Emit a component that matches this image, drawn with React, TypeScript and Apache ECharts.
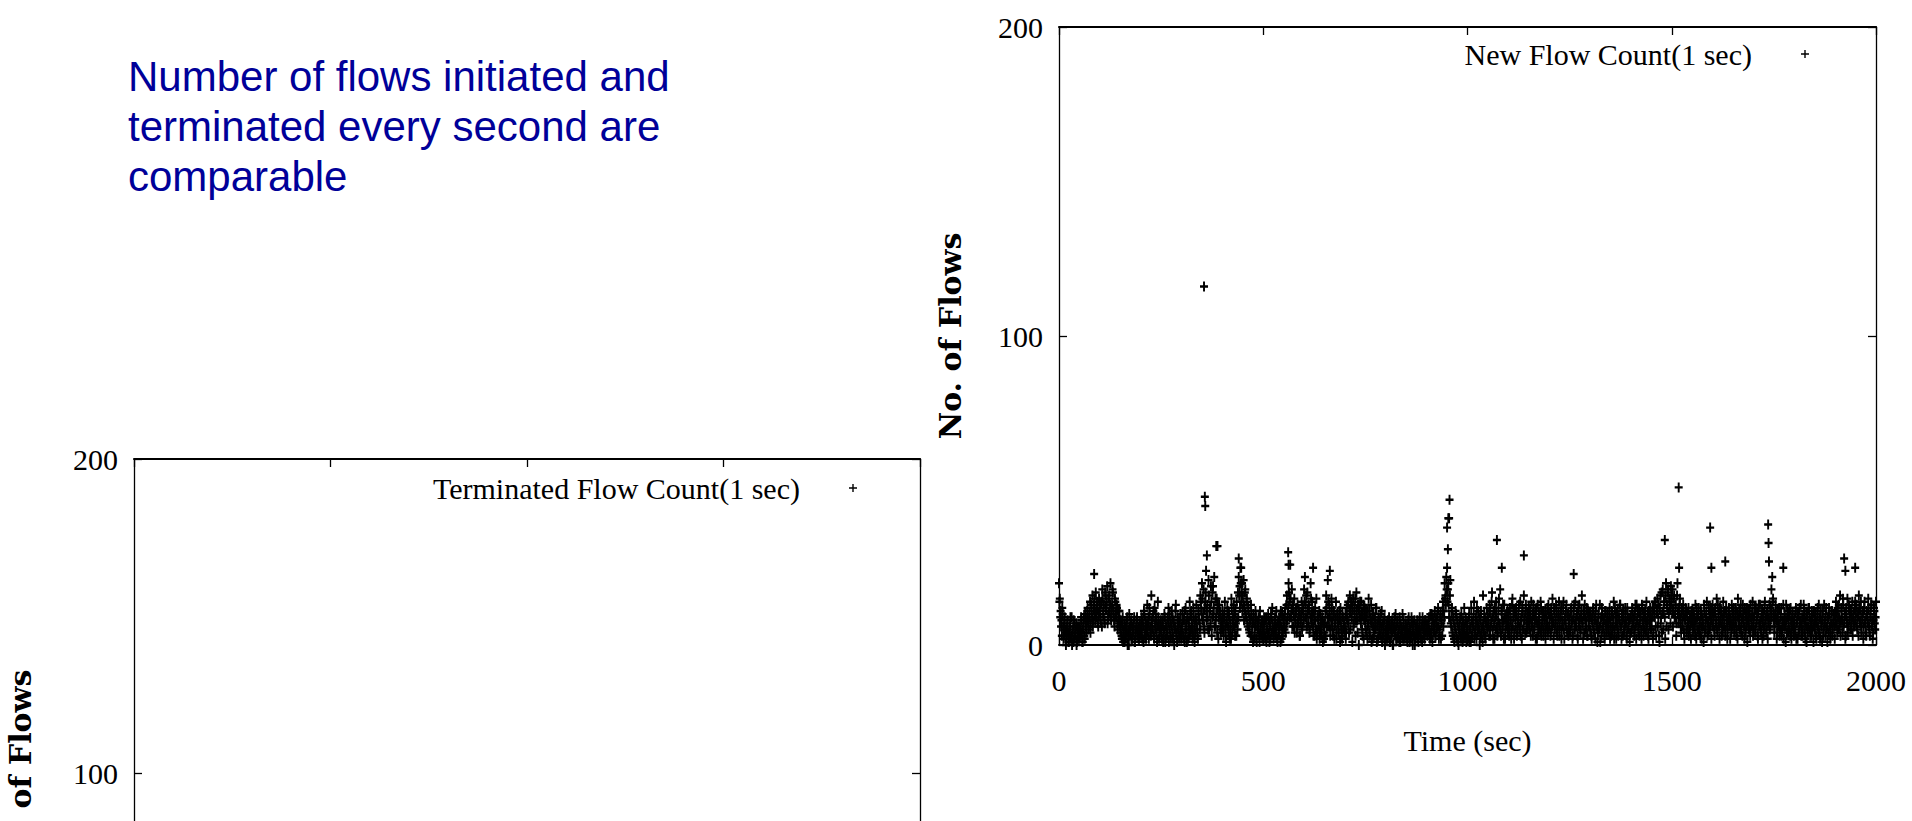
import React, { useEffect, useRef } from 'react';
import * as echarts from 'echarts';

// ---------- Data ----------
const headline = 'Number of flows initiated and\nterminated every second are\ncomparable';
const newSeriesName = 'New Flow Count(1 sec)';
const termSeriesName = 'Terminated Flow Count(1 sec)';
const xAxisTitle = 'Time (sec)';
const yAxisTitle = 'No. of Flows';
const xTicks = [0, 500, 1000, 1500, 2000];
const yTicks = [0, 100, 200];

// New flow counts at even seconds (t = 0, 2, 4, ...)
const newFlowEven0to498 = [
  20, 15, 11, 8, 12, 6, 3, 9, 5, 2, 7, 4, 1, 6, 9, 3, 0, 5, 8, 2, 4, 7, 1, 3, 6,
  2, 5, 9, 4, 1, 7, 3, 10, 6, 8, 12, 5, 9, 14, 7, 11, 16, 8, 13, 10, 17, 9, 12, 6, 15,
  11, 8, 14, 18, 10, 13, 7, 16, 12, 19, 9, 15, 11, 20, 8, 13, 17, 10, 6, 14, 9, 12, 5, 8, 11,
  4, 7, 2, 9, 5, 1, 6, 3, 8, 0, 5, 10, 3, 7, 2, 6, 4, 9, 1, 5, 8, 3, 6, 2, 7,
  4, 9, 2, 6, 11, 3, 8, 5, 13, 7, 2, 10, 4, 16, 6, 9, 3, 12, 5, 8, 1, 14, 6, 3, 7,
  5, 2, 8, 4, 10, 1, 6, 3, 9, 12, 5, 7, 2, 11, 4, 8, 0, 6, 13, 3, 9, 5, 2, 7, 4,
  6, 10, 3, 8, 1, 12, 5, 9, 2, 7, 14, 4, 11, 6, 3, 9, 1, 8, 13, 5, 2, 10, 7, 16, 12,
  20, 8, 18, 4, 14, 24, 11, 9, 21, 5, 12, 19, 3, 17, 10, 22, 6, 8, 15, 12, 2, 13, 10, 4, 7,
  11, 5, 9, 14, 3, 8, 12, 6, 10, 2, 7, 15, 4, 9, 13, 6, 11, 3, 8, 17, 22, 19, 25, 14, 20,
  16, 21, 12, 18, 9, 15, 6, 11, 4, 8, 13, 3, 7, 10, 2, 6, 9, 1, 5, 8, 3, 11, 4, 7, 2,
];
const newFlowEven500to998 = [
  6, 9, 3, 8, 1, 5, 10, 4, 7, 2, 9, 12, 5, 3, 8, 6, 11, 2, 7, 4, 9, 1, 6, 10, 3,
  8, 5, 12, 7, 16, 10, 20, 14, 26, 9, 18, 12, 6, 15, 8, 11, 4, 13, 7, 10, 3, 9, 14, 6, 11,
  18, 22, 13, 9, 17, 7, 12, 5, 20, 10, 14, 6, 11, 3, 8, 15, 4, 9, 6, 2, 10, 5, 8, 1, 7,
  4, 11, 16, 6, 21, 9, 13, 3, 8, 12, 5, 10, 2, 7, 14, 4, 9, 6, 11, 1, 8, 3, 10, 5, 7,
  6, 2, 12, 8, 14, 4, 16, 11, 13, 1, 15, 7, 12, 3, 17, 8, 13, 0, 11, 9, 14, 5, 10, 2, 12,
  8, 4, 11, 6, 15, 3, 9, 13, 7, 2, 10, 5, 8, 12, 1, 6, 9, 4, 7, 3, 11, 2, 5, 8, 0,
  4, 7, 2, 6, 9, 1, 5, 3, 8, 0, 6, 4, 10, 2, 7, 3, 5, 9, 1, 6, 4, 2, 8, 3, 5,
  2, 6, 4, 9, 1, 5, 3, 7, 0, 4, 8, 2, 6, 3, 5, 1, 7, 4, 2, 6, 9, 3, 5, 8, 4,
  6, 3, 5, 9, 2, 4, 10, 1, 8, 5, 11, 3, 9, 6, 12, 2, 5, 10, 7, 3, 14, 11, 20, 16, 22,
  25, 18, 13, 9, 21, 6, 12, 3, 8, 1, 5, 10, 2, 7, 0, 4, 9, 2, 6, 1, 5, 12, 3, 8, 4,
];
const newFlowEven1000to1498 = [
  7, 2, 10, 5, 1, 8, 3, 6, 14, 4, 9, 2, 7, 11, 5, 0, 8, 3, 6, 16, 4, 9, 2, 7, 5,
  10, 6, 13, 3, 8, 17, 5, 11, 2, 9, 14, 6, 4, 12, 7, 18, 3, 10, 5, 8, 13, 2, 9, 6, 11,
  7, 3, 12, 8, 5, 15, 9, 2, 11, 6, 10, 4, 8, 13, 6, 3, 9, 12, 5, 16, 8, 11, 4, 10, 7,
  12, 5, 9, 14, 7, 3, 10, 6, 11, 8, 2, 13, 7, 9, 4, 12, 6, 10, 3, 8, 11, 5, 9, 7, 13,
  6, 10, 4, 9, 15, 7, 12, 5, 8, 11, 3, 9, 14, 6, 10, 2, 8, 12, 5, 9, 7, 13, 4, 10, 6,
  9, 5, 12, 8, 3, 11, 7, 14, 6, 10, 2, 8, 13, 5, 9, 16, 7, 11, 4, 9, 6, 12, 3, 8, 10,
  5, 9, 2, 7, 12, 4, 8, 11, 6, 1, 9, 5, 13, 7, 3, 10, 6, 8, 2, 11, 5, 9, 7, 4, 12,
  8, 3, 10, 6, 14, 5, 9, 2, 7, 11, 4, 8, 13, 6, 10, 3, 9, 5, 12, 7, 2, 10, 6, 8, 4,
  9, 5, 11, 7, 3, 10, 6, 13, 8, 4, 11, 7, 9, 2, 12, 6, 10, 5, 8, 14, 7, 3, 11, 6, 9,
  5, 10, 2, 12, 9, 14, 3, 11, 6, 13, 1, 16, 9, 4, 18, 11, 14, 2, 20, 13, 17, 5, 15, 12, 19,
];
const newFlowEven1500to1998 = [
  14, 18, 11, 16, 9, 13, 7, 20, 12, 10, 15, 6, 11, 8, 13, 4, 9, 12, 5, 10, 7, 3, 9, 6, 11,
  8, 4, 10, 6, 13, 2, 9, 5, 12, 7, 3, 10, 6, 8, 1, 11, 5, 9, 14, 7, 4, 10, 6, 12, 8,
  13, 9, 5, 11, 7, 15, 4, 10, 6, 12, 8, 3, 9, 14, 6, 11, 5, 10, 2, 8, 12, 6, 9, 4, 11,
  7, 12, 5, 9, 3, 10, 15, 6, 8, 11, 4, 9, 13, 7, 2, 10, 6, 12, 8, 5, 11, 3, 9, 7, 14,
  6, 10, 4, 12, 8, 3, 11, 7, 13, 5, 9, 2, 10, 6, 14, 8, 4, 11, 7, 9, 5, 12, 18, 22, 15,
  10, 6, 13, 8, 4, 11, 7, 3, 9, 12, 5, 8, 2, 10, 6, 13, 4, 9, 7, 11, 3, 8, 5, 10, 6,
  9, 4, 12, 7, 2, 10, 5, 8, 13, 6, 3, 9, 11, 4, 7, 1, 10, 6, 12, 5, 8, 3, 9, 6, 11,
  5, 8, 2, 10, 6, 13, 4, 9, 7, 1, 11, 5, 8, 3, 12, 6, 9, 4, 10, 2, 7, 11, 5, 8, 6,
  10, 14, 7, 12, 5, 9, 16, 8, 11, 4, 13, 7, 10, 3, 9, 15, 6, 12, 8, 11, 5, 14, 9, 7, 12,
  8, 13, 5, 10, 16, 7, 12, 4, 9, 11, 6, 14, 8, 3, 10, 7, 12, 5, 9, 13, 6, 2, 8, 11, 5,
];
const newFlowAt2000 = 14;

// New flow counts at odd seconds (t = 1, 3, 5, ...)
const newFlowOdd1to499 = [
  14, 9, 6, 3, 10, 2, 7, 4, 0, 5, 8, 1, 3, 6, 2, 9, 4, 1, 7, 3, 5, 0, 6, 2, 4,
  6, 3, 8, 1, 5, 9, 2, 7, 4, 11, 8, 6, 10, 4, 13, 9, 6, 12, 15, 8, 11, 14, 7, 10, 13,
  9, 13, 6, 15, 11, 8, 17, 12, 14, 7, 10, 16, 13, 9, 12, 18, 11, 8, 15, 10, 13, 7, 11, 9, 6,
  8, 3, 6, 1, 4, 7, 2, 5, 9, 3, 0, 6, 4, 8, 2, 5, 7, 1, 3, 6, 9, 4, 2, 5, 3,
  6, 3, 8, 1, 10, 5, 2, 7, 4, 9, 12, 6, 3, 8, 5, 11, 2, 7, 10, 4, 6, 9, 2, 5, 8,
  3, 7, 1, 5, 9, 2, 6, 4, 8, 1, 10, 3, 6, 9, 2, 7, 5, 11, 4, 1, 6, 8, 3, 10, 2,
  5, 8, 2, 11, 4, 7, 1, 9, 6, 3, 10, 5, 8, 2, 12, 6, 4, 9, 7, 3, 11, 8, 5, 14, 10,
  15, 10, 6, 12, 17, 8, 13, 5, 16, 11, 7, 14, 9, 19, 12, 6, 15, 10, 4, 13, 9, 11, 6, 8, 5,
  8, 3, 10, 6, 1, 7, 11, 4, 9, 5, 2, 12, 8, 6, 10, 3, 7, 14, 5, 9, 16, 12, 20, 17, 11,
  13, 8, 17, 10, 14, 7, 12, 5, 9, 3, 10, 6, 1, 8, 4, 11, 2, 7, 5, 9, 1, 6, 3, 8, 4,
];
const newFlowOdd501to999 = [
  4, 7, 2, 9, 5, 3, 8, 1, 6, 10, 4, 7, 2, 5, 9, 3, 6, 1, 8, 4, 7, 11, 2, 5, 9,
  6, 10, 4, 13, 8, 12, 17, 9, 15, 11, 6, 13, 10, 4, 9, 12, 6, 8, 11, 3, 7, 10, 5, 12, 8,
  14, 9, 16, 6, 11, 13, 4, 9, 15, 7, 10, 3, 8, 12, 5, 2, 9, 6, 11, 4, 7, 3, 9, 6, 2,
  7, 3, 12, 9, 14, 6, 10, 5, 15, 8, 3, 11, 6, 9, 2, 10, 7, 4, 8, 12, 5, 2, 9, 6, 4,
  10, 4, 9, 13, 7, 11, 5, 14, 9, 12, 6, 10, 15, 8, 11, 4, 12, 9, 14, 7, 10, 3, 13, 8, 11,
  5, 9, 2, 7, 11, 4, 8, 1, 10, 6, 3, 9, 5, 12, 7, 2, 8, 4, 10, 6, 1, 7, 3, 9, 5,
  2, 5, 8, 3, 6, 1, 7, 4, 0, 5, 9, 3, 6, 2, 8, 4, 1, 7, 3, 5, 10, 6, 2, 4, 7,
  5, 1, 8, 3, 6, 2, 9, 4, 7, 3, 0, 6, 4, 8, 2, 5, 9, 3, 6, 1, 7, 4, 2, 8, 5,
  7, 4, 8, 5, 10, 3, 6, 9, 4, 7, 3, 8, 5, 10, 6, 4, 9, 2, 8, 11, 6, 9, 15, 13, 18,
  14, 20, 9, 16, 7, 11, 4, 9, 2, 6, 11, 3, 8, 1, 5, 7, 3, 10, 4, 8, 2, 6, 9, 1, 6,
];
const newFlowOdd1001to1499 = [
  4, 9, 1, 6, 12, 3, 7, 10, 2, 5, 8, 12, 4, 6, 9, 3, 11, 5, 1, 7, 10, 3, 8, 12, 6,
  8, 3, 11, 6, 14, 9, 2, 7, 12, 5, 10, 3, 8, 15, 6, 4, 11, 7, 13, 2, 9, 5, 10, 7, 4,
  10, 5, 8, 2, 13, 6, 11, 4, 9, 12, 3, 7, 10, 5, 14, 8, 2, 11, 6, 9, 4, 13, 7, 5, 9,
  8, 11, 3, 6, 10, 13, 5, 9, 2, 12, 7, 4, 10, 6, 14, 3, 8, 11, 5, 9, 2, 7, 12, 4, 10,
  9, 3, 12, 6, 8, 2, 11, 7, 13, 4, 6, 10, 3, 9, 12, 5, 7, 14, 2, 8, 11, 5, 10, 3, 8,
  4, 11, 7, 2, 9, 13, 5, 8, 10, 3, 12, 6, 9, 4, 11, 7, 2, 10, 13, 5, 8, 3, 11, 6, 9,
  10, 3, 8, 11, 5, 9, 2, 13, 7, 4, 10, 6, 1, 9, 12, 5, 8, 3, 11, 7, 4, 10, 6, 9, 2,
  6, 11, 4, 9, 2, 12, 7, 10, 5, 3, 9, 13, 6, 2, 8, 11, 4, 7, 10, 3, 12, 5, 8, 1, 9,
  4, 12, 7, 9, 5, 13, 2, 8, 11, 6, 3, 10, 5, 13, 8, 3, 9, 11, 4, 7, 10, 2, 8, 12, 5,
  8, 12, 4, 10, 14, 6, 11, 15, 9, 3, 12, 7, 17, 10, 5, 14, 9, 16, 6, 12, 18, 10, 14, 7, 16,
];
const newFlowOdd1501to1999 = [
  11, 6, 15, 9, 12, 3, 16, 10, 7, 13, 9, 4, 12, 6, 10, 2, 8, 11, 4, 7, 12, 5, 9, 2, 8,
  11, 6, 9, 3, 8, 12, 5, 10, 4, 7, 11, 2, 9, 6, 13, 4, 8, 10, 3, 7, 12, 5, 9, 2, 11,
  6, 10, 3, 12, 8, 5, 13, 7, 2, 9, 11, 6, 4, 10, 7, 3, 12, 8, 5, 11, 9, 2, 7, 13, 6,
  10, 4, 8, 12, 6, 2, 9, 11, 5, 13, 7, 3, 10, 6, 12, 4, 9, 1, 11, 8, 5, 13, 6, 10, 3,
  9, 12, 5, 7, 10, 2, 13, 6, 8, 4, 11, 7, 3, 12, 9, 5, 10, 2, 8, 13, 6, 9, 11, 14, 8,
  4, 9, 11, 2, 8, 6, 12, 5, 10, 3, 7, 13, 6, 9, 1, 8, 11, 4, 10, 5, 12, 2, 9, 7, 3,
  6, 11, 2, 8, 10, 4, 12, 7, 3, 9, 5, 13, 8, 2, 10, 6, 4, 12, 9, 3, 7, 11, 5, 1, 8,
  10, 3, 7, 12, 4, 9, 2, 11, 6, 8, 3, 13, 7, 10, 5, 1, 9, 12, 6, 4, 11, 3, 8, 10, 2,
  7, 11, 4, 9, 13, 6, 3, 12, 8, 15, 6, 10, 2, 12, 7, 4, 13, 9, 5, 11, 8, 3, 10, 6, 14,
  11, 6, 9, 3, 12, 8, 14, 6, 10, 2, 12, 7, 4, 11, 9, 15, 6, 3, 10, 13, 8, 4, 12, 7, 9,
];

// Isolated high counts: [time (s), count]
const newFlowSpikes = [
  [86, 23], [355, 116], [357, 48], [358, 45], [362, 29], [385, 32], [388, 32], [440, 28], [446, 25],
  [561, 30], [562, 26], [622, 25], [663, 24], [950, 38], [952, 31], [953, 41], [955, 41], [956, 47],
  [1072, 34], [1084, 25], [1138, 29], [1260, 23], [1483, 34], [1517, 51], [1518, 25], [1594, 38],
  [1597, 25], [1631, 27], [1736, 39], [1737, 33], [1738, 27], [1773, 25], [1922, 28], [1925, 24], [1949, 25],
];
// Terminated flow counts: all below the visible part of the lower panel
const termFlow: number[][] = [];

// ---------- Helpers ----------
const plusSymbol = 'path://M3.8,0H6.2V3.8H10V6.2H6.2V10H3.8V6.2H0V3.8H3.8Z';
const legendPlus = 'path://M0,4.95H0.05V5H0Z M47.3,1H48.7V4.3H52V5.7H48.7V9H47.3V5.7H44V4.3H47.3Z';
const serif = 'Liberation Serif';
const black = '#000';
const gnuFont = 30;

const evenValues = ([] as number[]).concat(
  newFlowEven0to498, newFlowEven500to998, newFlowEven1000to1498, newFlowEven1500to1998, [newFlowAt2000]
);
const oddValues = ([] as number[]).concat(
  newFlowOdd1to499, newFlowOdd501to999, newFlowOdd1001to1499, newFlowOdd1501to1999
);
const newFlowData: number[][] = [];
evenValues.forEach((v, i) => newFlowData.push([2 * i, v]));
oddValues.forEach((v, i) => { if (2 * i + 1 <= 2000) newFlowData.push([2 * i + 1, v]); });
newFlowSpikes.forEach((p) => newFlowData.push(p));

const plain = (v: number) => String(v);

function xAx(grid: number, pos: 'bottom' | 'top', withLabels: boolean) {
  return {
    type: 'value', gridIndex: grid, position: pos,
    min: xTicks[0], max: xTicks[xTicks.length - 1], interval: xTicks[1] - xTicks[0],
    axisLine: { show: true, onZero: false, lineStyle: { color: black, width: 2 } },
    axisTick: { show: true, inside: true, length: 8, lineStyle: { color: black, width: 1.3 } },
    axisLabel: { show: withLabels, color: black, fontFamily: serif, fontSize: gnuFont, margin: 20, formatter: plain },
    splitLine: { show: false },
    name: withLabels ? xAxisTitle : '',
    nameLocation: 'middle', nameGap: 80,
    nameTextStyle: { color: black, fontFamily: serif, fontSize: gnuFont },
  };
}
function yAx(grid: number, pos: 'left' | 'right', withLabels: boolean, nameGap: number, showMin: boolean) {
  return {
    type: 'value', gridIndex: grid, position: pos,
    min: yTicks[0], max: yTicks[yTicks.length - 1], interval: yTicks[1] - yTicks[0],
    axisLine: { show: true, onZero: false, lineStyle: { color: black, width: 1.3 } },
    axisTick: { show: true, inside: true, length: 8, lineStyle: { color: black, width: 1.3 } },
    axisLabel: {
      show: withLabels, showMinLabel: showMin, color: black, fontFamily: serif, fontSize: gnuFont, margin: 16, formatter: plain,
    },
    splitLine: { show: false },
    name: withLabels ? yAxisTitle : '',
    nameLocation: 'middle', nameRotate: 90, nameGap,
    nameTextStyle: { color: black, fontFamily: 'DejaVu Serif', fontWeight: 'bold', fontSize: 30 },
  };
}
function legendFor(name: string, right: number, top: number) {
  return {
    data: [name], right, top, padding: 0, align: 'right', selectedMode: false,
    itemWidth: 52, itemHeight: 10, icon: legendPlus,
    textStyle: { color: black, fontFamily: serif, fontSize: gnuFont },
  };
}

const option = {
  animation: false,
  backgroundColor: '#fff',
  title: {
    text: headline, left: 128, top: 51, padding: 0,
    textStyle: { color: '#000099', fontFamily: 'Liberation Sans', fontWeight: 'normal', fontSize: 42, lineHeight: 50 },
  },
  grid: [
    { left: 1059, top: 27, width: 817, height: 618, outerBoundsMode: 'none', containLabel: false },
    { left: 134, top: 459, width: 786, height: 628, outerBoundsMode: 'none', containLabel: false },
  ],
  // The lower panel's bottom axis lies below the visible page, so its labels are not shown
  xAxis: [xAx(0, 'bottom', true), xAx(0, 'top', false), xAx(1, 'bottom', false), xAx(1, 'top', false)],
  yAxis: [
    yAx(0, 'left', true, 94, true), yAx(0, 'right', false, 94, true),
    yAx(1, 'left', true, 99, false), yAx(1, 'right', false, 99, false),
  ],
  legend: [legendFor(newSeriesName, 103, 39), legendFor(termSeriesName, 1055, 473)],
  series: [
    {
      name: newSeriesName, type: 'scatter', xAxisIndex: 0, yAxisIndex: 0, clip: false,
      symbol: plusSymbol, symbolSize: [8, 10], itemStyle: { color: black, opacity: 1 },
      data: newFlowData,
    },
    {
      name: termSeriesName, type: 'scatter', xAxisIndex: 2, yAxisIndex: 2, clip: false,
      symbol: plusSymbol, symbolSize: [8, 10], itemStyle: { color: black, opacity: 1 },
      data: termFlow,
    },
  ],
};

export default function App() {
  const ref = useRef<HTMLDivElement>(null);
  useEffect(() => {
    const chart = echarts.init(ref.current as HTMLDivElement, null, { renderer: 'svg' });
    chart.setOption(option as any);
    return () => chart.dispose();
  }, []);
  return (
    <div
      ref={ref}
      style={{ position: 'absolute', left: 0, top: 0, width: 1912, height: 821, background: '#fff' }}
    />
  );
}
